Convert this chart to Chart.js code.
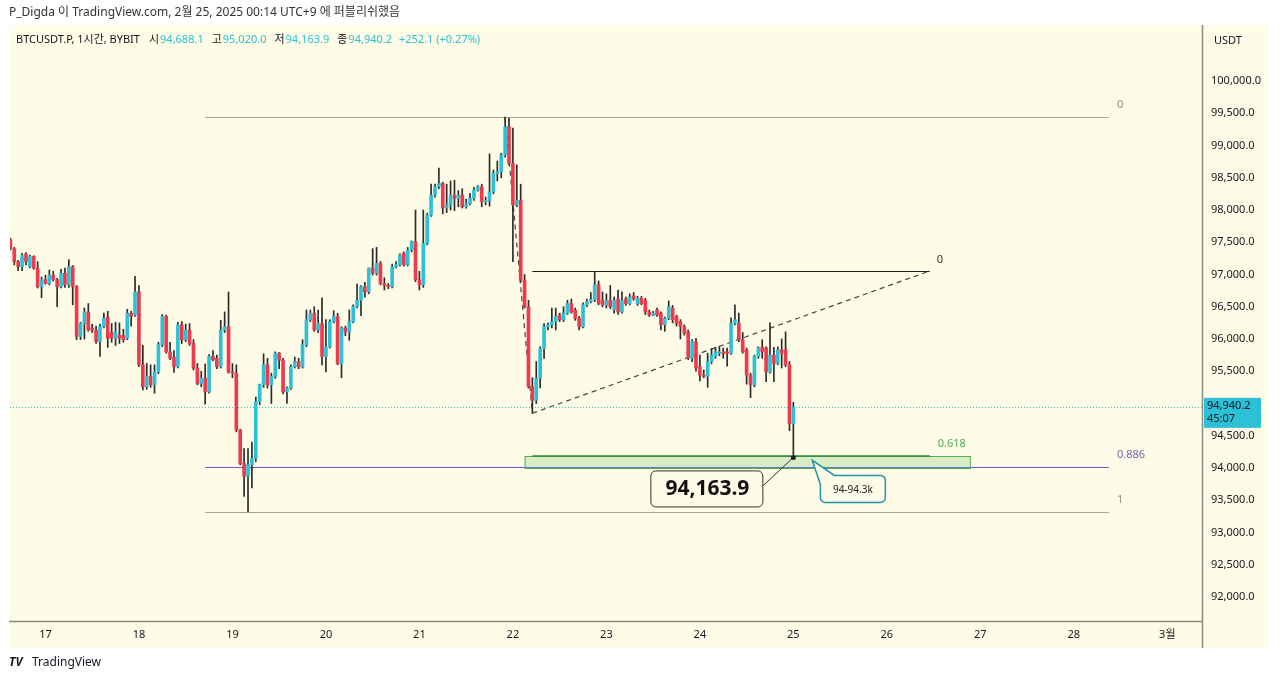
<!DOCTYPE html>
<html>
<head>
<meta charset="utf-8">
<title>BTCUSDT.P 1시간</title>
<script src="https://cdn.jsdelivr.net/npm/chart.js@4.4.1/dist/chart.umd.min.js"></script>
<style>
  html, body { margin: 0; padding: 0; background: #fff; }
  canvas { display: block; }
</style>
</head>
<body>
<canvas id="btcChart" width="1280" height="681"></canvas>
<script>
// hourly candles, index 0 = 2/16 15:00 (UTC+9), last one = 2/25 00:00
const openP = [
  97540, 97400, 97200, 97120, 97320, 97120, 97280, 97100, 96810, 96920,
  96860, 96990, 96920, 96810, 97020, 96840, 97120, 96810, 96040, 96240,
  96420, 96170, 96140, 95960, 96190, 96340, 96100, 96010, 96060, 96050,
  96010, 96400, 96370, 96730, 95600, 95260, 95420, 95290, 95490, 95910,
  96350, 95800, 95720, 95570, 96220, 95990, 96140, 95930, 95550, 95310,
  95390, 95180, 95730, 95700, 95570, 96140, 96190, 95490, 95470, 94590,
  94070, 93870, 94050, 94150, 95030, 95290, 95600, 95290, 95420, 95780,
  95670, 95180, 95240, 95570, 95650, 95570, 95910, 96300, 96400, 96140,
  96240, 95730, 95880, 96270, 96350, 95620, 96170, 96110, 96270, 96500,
  96600, 96810, 96730, 97100, 97020, 97170, 96860, 96830, 96810, 97120,
  97150, 97330, 97150, 97380, 97510, 96920, 96840, 97480, 97920, 98230,
  98360, 98410, 98030, 98080, 98230, 98180, 98230, 98050, 98100, 98180,
  98310, 98360, 98130, 98150, 98280, 98570, 98590, 98850, 99290, 98720,
  98080, 98150, 96910, 96500, 95260, 95050, 95390, 95850, 96190, 96220,
  96270, 96370, 96300, 96400, 96550, 96450, 96320, 96190, 96530, 96580,
  96610, 96840, 96600, 96530, 96600, 96450, 96620, 96420, 96620, 96550,
  96670, 96550, 96630, 96600, 96420, 96370, 96450, 96400, 96220, 96320,
  96480, 96350, 96270, 96190, 96110, 95700, 95960, 95570, 95440, 95420,
  95650, 95730, 95780, 95800, 95800, 95780, 96240, 96240, 95990, 95830,
  95440, 95290, 95730, 95870, 95860, 95490, 95750, 95620, 95830, 95830,
  95600, 94688.1
];
const highP = [
  97560, 97420, 97220, 97330, 97340, 97300, 97290, 97200, 96960, 96990,
  97070, 97050, 96940, 97080, 97100, 97230, 97140, 96830, 96260, 96480,
  96550, 96230, 96200, 96230, 96400, 96430, 96240, 96260, 96250, 96150,
  96460, 96430, 96970, 96830, 95900, 95620, 95600, 95600, 95950, 96380,
  96370, 95950, 95820, 96260, 96270, 96230, 96240, 95990, 95620, 95500,
  95610, 95760, 95820, 95750, 96290, 96420, 96730, 95620, 95600, 94600,
  94300, 94300, 94400, 95100, 95300, 95770, 95700, 95470, 95800, 95790,
  95700, 95260, 95600, 95720, 95700, 95990, 96450, 96450, 96500, 96450,
  96640, 96300, 96300, 96440, 96400, 96190, 96200, 96450, 96530, 96850,
  96830, 96880, 97100, 97400, 97420, 97200, 96950, 96860, 97160, 97200,
  97320, 97350, 97420, 97520, 98000, 97050, 98000, 97950, 98400, 98400,
  98650, 98430, 98400, 98450, 98460, 98300, 98330, 98170, 98260, 98350,
  98380, 98400, 98200, 98870, 98620, 98760, 98880, 99440, 99420, 99270,
  98700, 98400, 97000, 96600, 95400, 95650, 95880, 96240, 96250, 96480,
  96480, 96400, 96500, 96600, 96620, 96480, 96350, 96560, 96620, 96720,
  97050, 96900, 96730, 96700, 96830, 96650, 96760, 96730, 96650, 96700,
  96720, 96660, 96660, 96630, 96450, 96430, 96480, 96420, 96340, 96590,
  96520, 96370, 96300, 96220, 96140, 95990, 96010, 95750, 95520, 95780,
  95850, 95870, 95880, 95860, 95860, 96330, 96530, 96400, 96100, 95860,
  95470, 95750, 95880, 95990, 95880, 96250, 95870, 95880, 96000, 96110,
  95650, 95020.0
];
const lowP = [
  97380, 97150, 97060, 97060, 97150, 97100, 97080, 96790, 96640, 96850,
  96840, 96900, 96500, 96790, 96800, 96800, 96530, 95990, 95990, 96000,
  96120, 96100, 95930, 95730, 96170, 95870, 95950, 95900, 95930, 95950,
  95990, 96200, 96350, 95570, 95210, 95220, 95250, 95160, 95460, 95880,
  95780, 95680, 95480, 95550, 95930, 95960, 95900, 95520, 95290, 95260,
  94990, 95160, 95660, 95540, 95550, 96100, 95470, 95400, 94560, 94050,
  93560, 93320, 93690, 94100, 94980, 95250, 95240, 95000, 95390, 95540,
  95150, 95000, 95220, 95550, 95540, 95550, 95880, 96270, 96120, 96100,
  95600, 95490, 95860, 96250, 95600, 95400, 96050, 95980, 96250, 96480,
  96360, 96650, 96700, 96990, 96990, 96840, 96760, 96780, 96790, 97100,
  97130, 97130, 97130, 97350, 96890, 96760, 96800, 97460, 97900, 98200,
  98330, 97940, 97960, 98000, 97990, 98050, 98030, 98030, 98080, 98150,
  98290, 98050, 98080, 98060, 98250, 98450, 98500, 98820, 98700, 97200,
  98050, 96880, 96480, 95240, 94850, 95000, 95240, 95700, 96140, 96170,
  96140, 96270, 96270, 96380, 96400, 96290, 96140, 96170, 96500, 96560,
  96580, 96530, 96500, 96480, 96470, 96400, 96380, 96400, 96520, 96530,
  96600, 96520, 96530, 96380, 96350, 96360, 96350, 96140, 96120, 96300,
  96250, 96200, 96000, 96060, 95680, 95650, 95500, 95350, 95400, 95250,
  95620, 95700, 95740, 95700, 95580, 95760, 96220, 95960, 95780, 95300,
  95090, 95260, 95700, 95700, 95340, 95470, 95340, 95600, 95550, 95570,
  94580, 94163.9
];
const closeP = [
  97400, 97200, 97120, 97300, 97200, 97280, 97100, 96810, 96920, 96860,
  96990, 96920, 96810, 97020, 96840, 97120, 96810, 96040, 96240, 96420,
  96140, 96140, 95960, 96190, 96320, 96010, 96010, 96110, 96010, 95990,
  96400, 96350, 96730, 95600, 95260, 95420, 95290, 95490, 95910, 96350,
  95800, 95700, 95570, 96220, 95990, 96140, 95930, 95550, 95310, 95390,
  95180, 95730, 95680, 95570, 96140, 96190, 95490, 95470, 94590, 94070,
  93870, 94050, 94150, 95030, 95290, 95600, 95290, 95420, 95780, 95670,
  95180, 95240, 95570, 95650, 95570, 95910, 96300, 96400, 96140, 96240,
  95730, 95880, 96270, 96350, 95620, 96170, 96110, 96270, 96500, 96600,
  96810, 96730, 97100, 97020, 97170, 96860, 96830, 96810, 97120, 97150,
  97300, 97150, 97380, 97510, 96920, 96840, 97480, 97920, 98230, 98360,
  98410, 98030, 98080, 98230, 98180, 98230, 98050, 98100, 98180, 98310,
  98360, 98130, 98150, 98280, 98570, 98590, 98850, 99290, 98720, 98080,
  98150, 96910, 96500, 95260, 95050, 95390, 95850, 96190, 96220, 96270,
  96350, 96300, 96400, 96550, 96420, 96320, 96190, 96530, 96580, 96610,
  96840, 96550, 96530, 96600, 96500, 96600, 96420, 96600, 96550, 96650,
  96620, 96630, 96550, 96420, 96370, 96400, 96370, 96220, 96320, 96500,
  96300, 96240, 96190, 96090, 95700, 95960, 95550, 95440, 95420, 95650,
  95750, 95800, 95800, 95770, 95780, 96240, 96300, 95990, 95800, 95440,
  95290, 95730, 95860, 95800, 95490, 95750, 95620, 95830, 95780, 95600,
  94688.1, 94940.2
];

const priceTicks = [92000, 92500, 93000, 93500, 94000, 94500, 95000, 95500, 96000,
  96500, 97000, 97500, 98000, 98500, 99000, 99500, 100000];
const dayTicks = [9, 33, 57, 81, 105, 129, 153, 177, 201, 225, 249, 273, 297];
const dayLabels = ['17', '18', '19', '20', '21', '22', '23', '24', '25', '26', '27', '28', '3월'];

// drawing anchors: [hour index, price]
const fibHigh = 99442, fibLow = 93318;
const fibLevels = [0, 0.886, 1];
const fibSpan = [50, 282];
const fib2Zero = 97054, fib2Level = 94186;
const fib2Span = [134, 236];
const zoneSpan = [132, 246.3];
const zonePrices = [94000, 94186];
const dropLine = [[127, 99442], [134, 94848]];
const riseLine = [[134, 94848], [236, 97054]];

const BG = '#fefbe6';
const UP = '#2cc1d6';
const DOWN = '#ee3a4c';
const WICK = '#2a2a2a';
const TXT = '#131722';
const AXIS = '#8c8b80';
const FONT = '"Noto Sans", "Noto Sans CJK KR", sans-serif';

const last = closeP.length - 1;
const fmt = v => v.toLocaleString('en-US', { minimumFractionDigits: 1, maximumFractionDigits: 1 });

let bodies = [];
let wicks = [];
let colors = [];
for (let i = 0; i < closeP.length; i++) {
    bodies.push({ x: i, y: [openP[i], closeP[i]] });
    wicks.push({ x: i, y: [lowP[i], highP[i]] });
    colors.push(closeP[i] >= openP[i] ? UP : DOWN);
}

function line(c, x1, y1, x2, y2) {
    c.beginPath();
    c.moveTo(x1, y1);
    c.lineTo(x2, y2);
    c.stroke();
}

const tvDrawings = {
    id: 'tvDrawings',
    beforeDraw(chart) {
        const c = chart.ctx, a = chart.chartArea;
        c.save();
        c.fillStyle = '#fff';
        c.fillRect(0, 0, chart.width, chart.height);
        c.fillStyle = BG;
        c.fillRect(a.left - 1, a.top, a.right + 66 - a.left + 1, a.bottom + 27 - a.top);
        c.restore();
    },
    beforeDatasetsDraw(chart) {
        const c = chart.ctx, a = chart.chartArea;
        const X = v => chart.scales.x.getPixelForValue(v);
        const Y = v => chart.scales.y.getPixelForValue(v);
        c.save();
        c.font = '11px ' + FONT;
        c.textBaseline = 'middle';

        // fib retracement of the whole move
        fibLevels.forEach(lv => {
            const p = fibHigh - lv * (fibHigh - fibLow);
            const col = lv === 0.886 ? '#6459e0' : '#a3a294';
            c.strokeStyle = col;
            c.lineWidth = 1;
            line(c, X(fibSpan[0]), Math.round(Y(p)) + 0.5, X(fibSpan[1]), Math.round(Y(p)) + 0.5);
            c.fillStyle = lv === 0.886 ? '#6f66b8' : '#8e8d84';
            c.fillText(String(lv), X(fibSpan[1]) + 8, Y(p) - 12);
        });

        // second fib + zone
        const zx1 = X(zoneSpan[0]), zx2 = X(zoneSpan[1]);
        const zy1 = Y(zonePrices[1]), zy2 = Y(zonePrices[0]);
        c.fillStyle = 'rgba(120, 200, 110, 0.28)';
        c.fillRect(zx1, zy1, zx2 - zx1, zy2 - zy1);
        c.strokeStyle = '#4caf50';
        c.lineWidth = 1;
        c.strokeRect(zx1 + 0.5, zy1 + 0.5, zx2 - zx1, zy2 - zy1);
        c.strokeStyle = '#2e8b3a';
        c.lineWidth = 1.5;
        line(c, X(fib2Span[0]), Y(fib2Level), X(fib2Span[1]), Y(fib2Level));
        c.fillStyle = '#4caf50';
        c.fillText('0.618', X(fib2Span[1]) + 8, Y(fib2Level) - 12);

        c.strokeStyle = '#1c1c1c';
        c.lineWidth = 1;
        line(c, X(fib2Span[0]), Math.round(Y(fib2Zero)) + 0.5, X(fib2Span[1]), Math.round(Y(fib2Zero)) + 0.5);
        c.fillStyle = '#333';
        c.fillText('0', X(fib2Span[1]) + 7, Y(fib2Zero) - 11);

        // dashed trend lines
        c.strokeStyle = '#444';
        c.lineWidth = 1.2;
        c.setLineDash([5, 4]);
        line(c, X(dropLine[0][0]), Y(dropLine[0][1]), X(dropLine[1][0]), Y(dropLine[1][1]));
        line(c, X(riseLine[0][0]), Y(riseLine[0][1]), X(riseLine[1][0]), Y(riseLine[1][1]));

        // last price dotted line
        c.strokeStyle = UP;
        c.lineWidth = 1;
        c.setLineDash([1, 2]);
        const py = Math.round(Y(closeP[last])) + 0.5;
        line(c, a.left, py, a.right, py);
        c.restore();
    },
    afterDatasetsDraw(chart) {
        const c = chart.ctx;
        const ax = chart.scales.x.getPixelForValue(last);
        const ay = chart.scales.y.getPixelForValue(lowP[last]);
        c.save();

        // price callout
        c.strokeStyle = '#333';
        c.lineWidth = 1;
        line(c, ax - 30, ay + 28, ax, ay);
        c.fillStyle = '#222';
        c.beginPath();
        c.arc(ax, ay, 2.5, 0, Math.PI * 2);
        c.fill();
        c.fillStyle = BG;
        c.beginPath();
        c.roundRect(ax - 142.5, ay + 13.5, 112, 36, 5);
        c.fill();
        c.stroke();
        c.fillStyle = '#111';
        c.font = 'bold 21px ' + FONT;
        c.textAlign = 'center';
        c.textBaseline = 'middle';
        c.fillText(fmt(lowP[last]), ax - 86, ay + 32);

        // zone callout
        const L = ax + 27, T = ay + 18, W = 65, H = 27, r = 5;
        c.beginPath();
        c.moveTo(L + 14, T);
        c.arcTo(L + W, T, L + W, T + H, r);
        c.arcTo(L + W, T + H, L, T + H, r);
        c.arcTo(L, T + H, L, T, r);
        c.lineTo(L, T + 9);
        c.lineTo(ax + 19, ay + 3);
        c.closePath();
        c.fillStyle = BG;
        c.fill();
        c.strokeStyle = '#1f93a6';
        c.lineWidth = 1.5;
        c.stroke();
        c.fillStyle = '#222';
        c.font = '10px ' + FONT;
        c.fillText('94-94.3k', L + W / 2, T + H / 2 + 1);
        c.restore();
    },
    afterDraw(chart) {
        const c = chart.ctx, a = chart.chartArea;
        const Y = v => chart.scales.y.getPixelForValue(v);
        c.save();

        // axis borders
        c.strokeStyle = AXIS;
        c.lineWidth = 1.5;
        line(c, a.right + 0.5, a.top, a.right + 0.5, a.bottom + 27);
        line(c, a.left - 1, a.bottom + 0.5, a.right, a.bottom + 0.5);

        // last price label on the axis
        const py = Y(closeP[last]);
        c.fillStyle = UP;
        c.fillRect(a.right + 2, py - 9.5, 57, 30);
        c.fillStyle = TXT;
        c.font = '11px ' + FONT;
        c.textBaseline = 'middle';
        c.fillText(fmt(closeP[last]), a.right + 5, py - 1);
        c.fillText('45:07', a.right + 5, py + 12);

        c.fillText('USDT', a.right + 12, 41);

        // legend line
        const chg = closeP[last] - closeP[last - 1];
        const pct = chg / closeP[last - 1] * 100;
        const parts = [
            ['BTCUSDT.P, 1시간, BYBIT', TXT, 9],
            ['시', TXT, 1], [fmt(openP[last]), UP, 8],
            ['고', TXT, 1], [fmt(highP[last]), UP, 8],
            ['저', TXT, 1], [fmt(lowP[last]), UP, 8],
            ['종', TXT, 1], [fmt(closeP[last]), UP, 7],
            ['+' + fmt(chg) + ' (+' + pct.toFixed(2) + '%)', UP, 0]
        ];
        let x = 16;
        parts.forEach(p => {
            c.fillStyle = p[1];
            c.fillText(p[0], x, 40);
            x += c.measureText(p[0]).width + p[2];
        });

        // page header and footer
        c.fillStyle = '#333';
        c.font = '12px ' + FONT;
        c.fillText('P_Digda 이 TradingView.com, 2월 25, 2025 00:14 UTC+9 에 퍼블리쉬했음', 9, 13);
        c.fillStyle = TXT;
        c.font = 'bold italic 12px ' + FONT;
        c.fillText('TV', 9, 663);
        c.font = '12px ' + FONT;
        c.fillText('TradingView', 32, 663);
        c.restore();
    }
};

const ctx = document.getElementById('btcChart').getContext('2d');
const btcChart = new Chart(ctx, {
    type: 'bar',
    data: {
        datasets: [{
            label: 'body',
            data: bodies,
            backgroundColor: colors,
            barThickness: 3,
            minBarLength: 1,
            grouped: false
        }, {
            label: 'wick',
            data: wicks,
            backgroundColor: WICK,
            barThickness: 1,
            grouped: false
        }]
    },
    options: {
        responsive: false,
        animation: false,
        devicePixelRatio: 1,
        layout: {
            padding: { left: 10, top: 25, right: 12, bottom: 33 }
        },
        plugins: {
            legend: { display: false },
            tooltip: { enabled: false }
        },
        scales: {
            x: {
                type: 'linear',
                min: -0.1,
                max: 305.9,
                offset: false,
                grid: { display: false, drawTicks: false },
                border: { display: false },
                afterBuildTicks: s => { s.ticks = dayTicks.map(v => ({ value: v })); },
                afterFit: s => { s.height = 27; },
                ticks: {
                    autoSkip: false,
                    maxRotation: 0,
                    padding: 7,
                    color: TXT,
                    font: { size: 11, family: FONT },
                    callback: v => dayLabels[dayTicks.indexOf(v)]
                }
            },
            y: {
                position: 'right',
                min: 91628,
                max: 100868,
                grid: { display: false, drawTicks: false },
                border: { display: false },
                afterBuildTicks: s => { s.ticks = priceTicks.map(v => ({ value: v })); },
                afterFit: s => { s.width = 66; },
                ticks: {
                    padding: 9,
                    color: TXT,
                    font: { size: 11, family: FONT },
                    callback: v => fmt(v)
                }
            }
        }
    },
    plugins: [tvDrawings]
});
</script>
</body>
</html>
